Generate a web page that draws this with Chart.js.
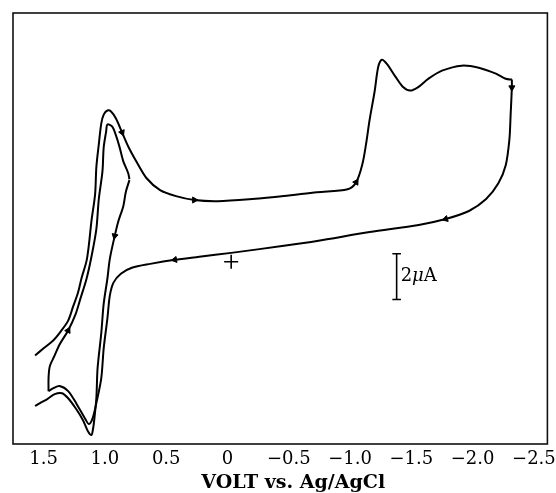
<!DOCTYPE html>
<html>
<head>
<meta charset="utf-8">
<script src="https://cdn.jsdelivr.net/npm/chart.js@4/dist/chart.umd.min.js"></script>
<style>
  html, body { margin: 0; background: #fff; }
  canvas { display: block; }
</style>
</head>
<body>
<canvas id="cvChart" width="556" height="493"></canvas>
<script>
// axis ticks (volts vs Ag/AgCl), drawn right-to-left
const voltTicks = [1.5, 1.0, 0.5, 0, -0.5, -1.0, -1.5, -2.0, -2.5];
const voltTickLabels = ["1.5", "1.0", "0.5", "0", "\u22120.5", "\u22121.0", "\u22121.5", "\u22122.0", "\u22122.5"];
const voltRange = [-2.61, 1.75];
const currentRange = [-7.96, 10.87]; // uA, cathodic up

// sweep 1: start at 0.8 V, scan positive through the oxidation wave
const sweep1V = [0.80, 0.83, 0.85, 0.89, 0.92, 0.96, 0.98, 1.01, 1.03, 1.06, 1.07, 1.09, 1.10, 1.11, 1.14, 1.18, 1.24, 1.30, 1.35, 1.41, 1.47, 1.53, 1.57];
const sweep1I = [3.57, 3.04, 2.43, 1.78, 1.13, 0.13, -0.74, -1.83, -3.13, -4.65, -5.96, -7.04, -7.39, -7.57, -7.39, -6.91, -6.39, -5.96, -5.74, -5.78, -6.00, -6.17, -6.30];

// sweep 2: pen restarts at 1.57 V, scan negative to -2.32 V
const sweep2V = [1.57, 1.50, 1.42, 1.36, 1.30, 1.26, 1.22, 1.19, 1.15, 1.13, 1.11, 1.08, 1.07, 1.05, 1.03, 1.01, 0.98, 0.95, 0.91, 0.86, 0.81, 0.74, 0.66, 0.55, 0.42, 0.27, 0.08, -0.20, -0.46, -0.73, -0.98, -1.05, -1.10, -1.13, -1.16, -1.20, -1.23, -1.26, -1.30, -1.37, -1.43, -1.49, -1.55, -1.64, -1.75, -1.91, -2.05, -2.19, -2.27, -2.32];
const sweep2I = [-4.09, -3.78, -3.43, -3.04, -2.57, -1.96, -1.35, -0.70, 0.04, 0.78, 1.78, 2.96, 4.13, 5.13, 6.04, 6.43, 6.61, 6.57, 6.26, 5.65, 5.04, 4.35, 3.65, 3.13, 2.87, 2.70, 2.65, 2.74, 2.87, 3.04, 3.17, 3.48, 4.26, 5.13, 6.22, 7.43, 8.52, 8.83, 8.65, 8.09, 7.65, 7.48, 7.61, 8.00, 8.35, 8.57, 8.48, 8.22, 8.00, 7.96];

// sweep 3: reverse at -2.32 V, scan positive back to 1.46 V
const sweep3V = [-2.32, -2.31, -2.30, -2.27, -2.21, -2.11, -1.97, -1.78, -1.56, -1.16, -0.73, -0.46, -0.03, 0.23, 0.43, 0.63, 0.78, 0.87, 0.93, 0.96, 0.98, 1.01, 1.03, 1.07, 1.10, 1.13, 1.16, 1.23, 1.30, 1.37, 1.42, 1.46];
const sweep3I = [7.61, 6.43, 5.35, 4.22, 3.43, 2.74, 2.22, 1.87, 1.61, 1.30, 0.91, 0.70, 0.39, 0.22, 0.09, -0.09, -0.26, -0.52, -0.91, -1.48, -2.48, -3.78, -5.09, -6.17, -6.83, -7.09, -6.87, -6.22, -5.65, -5.43, -5.52, -5.65];

// sweep 4: reverse at 1.46 V, scan negative and stop at 0.8 V
const sweep4V = [1.46, 1.45, 1.41, 1.37, 1.30, 1.24, 1.20, 1.15, 1.11, 1.07, 1.05, 1.02, 1.01, 0.99, 0.98, 0.94, 0.91, 0.88, 0.85, 0.81, 0.80];
const sweep4I = [-5.09, -4.57, -4.09, -3.61, -3.00, -2.30, -1.61, -0.74, 0.22, 1.43, 2.74, 3.96, 5.00, 5.70, 6.00, 5.91, 5.52, 5.00, 4.39, 3.87, 3.61];

// scan direction arrows on the trace
const arrowV = [0.92, 0.86, 0.27, -1.05, -2.32, -1.78, 0.43, 1.30];
const arrowI = [1.13, 5.65, 2.70, 3.48, 7.61, 1.87, 0.09, -3.00];
const arrowAngle = [193, 157, 90, 31, 180, 254, 261, 27];

// zero mark and current scale bar
const originV = [-0.03];
const originI = [0];
const scaleBarV = -1.38;
const scaleBarI = [0.35, -1.65]; // 2 uA
const scaleBarCap = 0.035;
const scaleBarText = ["2", "\u03bc", "A"];

function pts(vs, is) {
  return vs.map((v, i) => ({ x: v, y: is[i] }));
}
// a sweep joined to the end of the previous one
function sweep(prevV, prevI, vs, is) {
  let p = pts(vs, is);
  if (prevV) p.unshift({ x: prevV[prevV.length - 1], y: prevI[prevI.length - 1] });
  return p;
}

const lineStyle = { showLine: true, borderColor: "#000", borderWidth: 2, pointRadius: 0, tension: 0.3, fill: false };

const scaleBar = [
  { x: scaleBarV - scaleBarCap, y: scaleBarI[0] }, { x: scaleBarV + scaleBarCap, y: scaleBarI[0] }, { x: scaleBarV, y: null },
  { x: scaleBarV, y: scaleBarI[0] }, { x: scaleBarV, y: scaleBarI[1] }, { x: scaleBarV + scaleBarCap, y: null },
  { x: scaleBarV - scaleBarCap, y: scaleBarI[1] }, { x: scaleBarV + scaleBarCap, y: scaleBarI[1] }
];

const framePlugin = {
  id: "frame",
  afterDraw(chart) {
    const a = chart.chartArea, c = chart.ctx;
    c.save();
    c.strokeStyle = "#111";
    c.lineWidth = 1.6;
    c.strokeRect(a.left, a.top, a.right - a.left, a.bottom - a.top);
    c.restore();
  }
};

const barLabelPlugin = {
  id: "barLabel",
  afterDatasetsDraw(chart) {
    const c = chart.ctx;
    let px = chart.scales.x.getPixelForValue(scaleBarV) + 4;
    const py = chart.scales.y.getPixelForValue((scaleBarI[0] + scaleBarI[1]) / 2);
    c.save();
    c.fillStyle = "#000";
    c.textBaseline = "middle";
    scaleBarText.forEach((t, i) => {
      c.font = (i == 1 ? "italic " : "") + "18px 'DejaVu Serif'";
      c.fillText(t, px, py);
      px += c.measureText(t).width;
    });
    c.restore();
  }
};

new Chart(document.getElementById("cvChart"), {
  type: "scatter",
  data: {
    datasets: [
      Object.assign({ data: sweep(null, null, sweep1V, sweep1I) }, lineStyle),
      Object.assign({ data: sweep(null, null, sweep2V, sweep2I) }, lineStyle),
      Object.assign({ data: sweep(sweep2V, sweep2I, sweep3V, sweep3I) }, lineStyle),
      Object.assign({ data: sweep(sweep3V, sweep3I, sweep4V, sweep4I) }, lineStyle),
      { data: pts(arrowV, arrowI), pointStyle: "triangle", pointRadius: 3.5, pointRotation: arrowAngle,
        backgroundColor: "#000", borderColor: "#000", borderWidth: 1 },
      { data: pts(originV, originI), pointStyle: "cross", pointRadius: 7, borderColor: "#000", borderWidth: 1.6 },
      { data: scaleBar, showLine: true, spanGaps: false, borderColor: "#000", borderWidth: 1.6, pointRadius: 0 }
    ]
  },
  options: {
    responsive: false,
    devicePixelRatio: 1,
    animation: false,
    layout: { padding: { left: 13, right: 7, top: 13, bottom: 0 } },
    plugins: { legend: { display: false }, tooltip: { enabled: false } },
    scales: {
      x: {
        type: "linear",
        reverse: true,
        min: voltRange[0],
        max: voltRange[1],
        afterBuildTicks: s => { s.ticks = voltTicks.map(v => ({ value: v })); },
        afterFit: s => {
          // let the end labels hang past the frame like the original
          s.paddingLeft = 0; s.paddingRight = 0;
          // the printed axis title sits a little right of centre
          if (!s._titleShifted) {
            const drawTitle = s.drawTitle;
            s.drawTitle = function () {
              this.ctx.save(); this.ctx.translate(13, 0);
              drawTitle.call(this);
              this.ctx.restore();
            };
            s._titleShifted = true;
          }
        },
        grid: { display: false, drawTicks: false },
        border: { display: false },
        ticks: {
          autoSkip: false, maxRotation: 0, padding: 6, color: "#000",
          font: { family: "'DejaVu Serif'", size: 18, lineHeight: 1.0 },
          callback: (v, i) => voltTickLabels[i]
        },
        title: {
          display: true, text: "VOLT vs. Ag/AgCl", color: "#000",
          font: { family: "'DejaVu Serif'", size: 19, weight: "bold", lineHeight: 1.0 },
          padding: { top: 0, bottom: 0 }
        }
      },
      y: {
        display: false,
        min: currentRange[0],
        max: currentRange[1]
      }
    }
  },
  plugins: [framePlugin, barLabelPlugin]
});
</script>
</body>
</html>
